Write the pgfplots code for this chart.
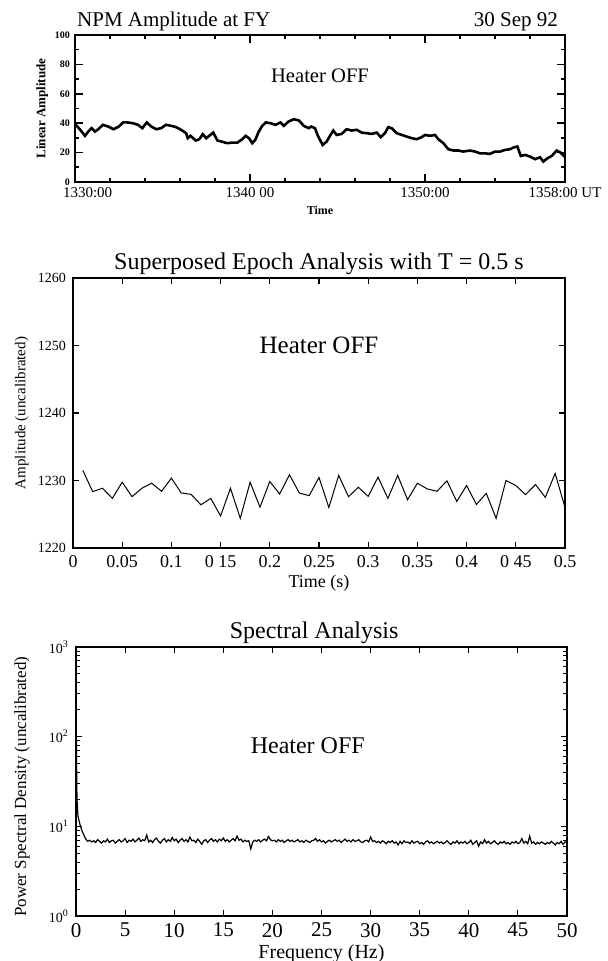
\documentclass[border=0pt]{standalone}
\usepackage{fontspec}
\setmainfont{Liberation Serif}
\usepackage{pgfplots}
\pgfplotsset{compat=1.18}
\pgfplotstableread{
f p
0.0 700
0.05 60
0.1 20
0.2 13
0.4 10.5
0.6 9.0
0.8 8.0
1.0 7.2
1.2 6.8
1.4 7.0
1.6 6.7
1.8 6.9
2.0 6.6
2.2 7.1
2.4 6.8
2.6 6.5
2.8 6.9
3.0 6.7
3.2 7.2
3.4 6.6
3.6 6.9
3.8 7.0
4.0 6.5
4.2 6.8
4.4 7.1
4.6 6.7
4.8 6.9
5.0 7.3
5.2 6.6
5.4 7.0
5.6 6.8
5.8 7.2
6.0 6.7
6.2 7.0
6.4 7.4
6.6 6.8
6.8 7.1
7.0 6.9
7.2 8.0
7.4 6.7
7.6 7.0
7.8 6.6
8.0 7.1
8.2 7.4
8.4 6.8
8.6 6.5
8.8 7.0
9.0 7.3
9.2 6.7
9.4 7.1
9.6 6.8
9.8 7.5
10.0 6.9
10.2 7.2
10.4 6.6
10.6 7.0
10.8 7.3
11.0 6.8
11.2 7.1
11.4 6.7
11.6 7.6
11.8 6.9
12.0 7.0
12.2 6.6
12.4 7.2
12.6 6.8
12.8 6.3
13.0 6.9
13.2 7.1
13.4 6.6
13.6 7.0
13.8 7.3
14.0 6.8
14.2 7.1
14.4 6.7
14.6 7.2
14.8 6.9
15.0 7.4
15.2 6.8
15.4 7.1
15.6 6.7
15.8 7.0
16.0 7.3
16.2 6.9
16.4 7.8
16.6 7.0
16.8 7.2
17.0 6.7
17.2 7.0
17.4 6.8
17.6 6.9
17.8 5.6
18.0 6.7
18.2 7.0
18.4 6.8
18.6 7.1
18.8 6.7
19.0 7.0
19.2 7.2
19.4 6.9
19.6 7.7
19.8 7.1
20.0 6.9
20.2 7.0
20.4 6.7
20.6 7.1
20.8 6.8
21.0 7.0
21.2 6.6
21.4 6.9
21.6 7.1
21.8 6.8
22.0 7.0
22.2 6.7
22.4 6.9
22.6 7.1
22.8 6.7
23.0 6.9
23.2 6.6
23.4 7.0
23.6 6.8
23.8 6.6
24.0 6.9
24.2 7.0
24.4 7.3
24.6 6.8
24.8 7.1
25.0 6.7
25.2 6.9
25.4 6.5
25.6 6.8
25.8 7.0
26.0 6.7
26.2 6.9
26.4 7.1
26.6 6.8
26.8 7.0
27.0 6.6
27.2 6.9
27.4 7.2
27.6 6.8
27.8 7.0
28.0 6.7
28.2 7.1
28.4 6.8
28.6 6.9
28.8 7.1
29.0 6.7
29.2 6.6
29.4 6.9
29.6 7.0
29.8 6.7
30.0 7.6
30.2 6.8
30.4 6.9
30.6 6.6
30.8 6.8
31.0 6.5
31.2 6.9
31.4 6.7
31.6 6.4
31.8 6.8
32.0 6.6
32.2 6.9
32.4 6.5
32.6 6.7
32.8 6.2
33.0 6.8
33.2 6.4
33.4 6.9
33.6 6.6
33.8 6.7
34.0 6.4
34.2 6.9
34.4 6.5
34.6 6.7
34.8 6.8
35.0 6.4
35.2 6.6
35.4 6.3
35.6 6.7
35.8 6.9
36.0 6.5
36.2 6.7
36.4 6.4
36.6 6.6
36.8 6.8
37.0 6.5
37.2 6.7
37.4 6.4
37.6 6.6
37.8 6.9
38.0 6.5
38.2 6.3
38.4 6.7
38.6 6.5
38.8 6.9
39.0 6.4
39.2 6.7
39.4 6.5
39.6 6.8
39.8 6.4
40.0 6.6
40.2 7.0
40.4 6.3
40.6 6.6
40.8 6.9
41.0 6.0
41.2 6.7
41.4 6.4
41.6 7.1
41.8 6.5
42.0 6.8
42.2 6.4
42.4 6.6
42.6 6.9
42.8 6.5
43.0 6.3
43.2 6.7
43.4 6.5
43.6 6.8
43.8 6.4
44.0 6.6
44.2 6.3
44.4 6.7
44.6 6.5
44.8 6.8
45.0 6.4
45.2 6.6
45.4 7.3
45.6 6.5
45.8 6.8
46.0 6.4
46.2 7.8
46.4 6.5
46.6 6.7
46.8 6.3
47.0 6.6
47.2 6.4
47.4 6.7
47.6 6.5
47.8 6.3
48.0 6.6
48.2 6.4
48.4 6.8
48.6 6.5
48.8 6.2
49.0 6.6
49.2 6.4
49.4 6.8
49.6 6.3
49.8 6.7
50.0 6.6
}\spectrum
\begin{document}
\begin{tikzpicture}
\useasboundingbox (0,0) rectangle (304pt,480.5pt);
% ---------- top panel ----------
\begin{axis}[at={(37.5pt,389.5pt)}, anchor=south west, scale only axis,
  width=245pt, height=73.5pt, xmin=1330, xmax=1358, ymin=0, ymax=100,
  axis line style={line width=1pt}, clip=false,
  xtick={1330,1340,1350,1358},
  xticklabels={\makebox[0pt][l]{\hspace{-6pt}1330:00},1340 00,1350:00,1358:00 UT},
  minor xtick={1332,1334,1336,1338,1342,1344,1346,1348,1352,1354,1356},
  ytick={0,20,40,60,80,100}, minor ytick={10,30,50,70,90},
  tick align=inside, major tick length=4pt, minor tick length=2pt,
  tick style={line width=0.8pt, black},
  /pgf/number format/assume math mode=true,
  x tick label style={font=\fontsize{7.5}{8}\selectfont, yshift=1pt},
  y tick label style={font=\bfseries\fontsize{5}{6}\selectfont, xshift=1pt},
  xlabel={Time}, ylabel={Linear Amplitude},
  xlabel style={font=\bfseries\fontsize{6}{7}\selectfont, at={(axis description cs:0.5,-0.19)}, anchor=center},
  ylabel style={font=\bfseries\fontsize{6.5}{7}\selectfont, at={(axis description cs:-0.067,0.5)}, anchor=center},
]
\addplot[black, line width=1.3pt] coordinates {
(1330.0,39.5)(1330.3,35.5)(1330.57,31.4)(1330.76,34.3)(1330.95,36.6)(1331.14,34.3)(1331.33,35.9)(1331.6,38.9)(1331.9,37.7)(1332.2,35.9)(1332.5,37.7)(1332.75,40.5)(1333.0,40.5)(1333.3,40)(1333.6,38.9)(1333.85,36.6)(1334.1,40.5)(1334.36,37.7)(1334.64,35.9)(1334.92,36.6)(1335.2,38.9)(1335.5,38.2)(1335.78,37.3)(1336.06,35.5)(1336.35,33.2)(1336.44,29.8)(1336.6,31.4)(1336.9,28.2)(1337.1,29.1)(1337.3,32.5)(1337.5,29.8)(1337.67,31.4)(1337.9,33.6)(1338.14,28.2)(1338.43,27.3)(1338.7,26.4)(1339.0,26.8)(1339.28,26.8)(1339.56,29.1)(1339.75,31.4)(1339.94,29.8)(1340.13,26.4)(1340.3,28.6)(1340.5,34.3)(1340.7,38.2)(1340.9,40.5)(1341.17,40)(1341.46,38.9)(1341.74,40.5)(1341.93,38.2)(1342.2,41.1)(1342.5,42.7)(1342.8,41.8)(1343.07,38.2)(1343.35,36.6)(1343.5,37.7)(1343.71,36.6)(1343.9,30.9)(1344.15,25.2)(1344.38,27.5)(1344.57,31.4)(1344.76,35)(1344.95,32)(1345.24,32.7)(1345.52,35.9)(1345.81,35)(1346.1,35.5)(1346.38,33.6)(1346.67,33.2)(1346.95,32.7)(1347.24,33.6)(1347.47,30.5)(1347.71,33.2)(1347.9,37.3)(1348.1,36.6)(1348.38,33.2)(1348.67,32)(1348.95,30.9)(1349.24,29.8)(1349.52,29.1)(1349.81,30.5)(1350.0,32)(1350.29,31.4)(1350.57,32)(1350.76,29.1)(1351.05,26.4)(1351.33,22.3)(1351.62,21.4)(1351.9,21.4)(1352.19,20.7)(1352.57,21.4)(1352.86,20.7)(1353.14,19.5)(1353.43,19.5)(1353.71,19.1)(1354.0,20.7)(1354.29,20.7)(1354.57,21.8)(1354.86,22.3)(1355.09,23.6)(1355.28,24.1)(1355.47,17.7)(1355.71,18.4)(1356.0,17.3)(1356.29,15.5)(1356.57,16.8)(1356.76,13.9)(1356.99,16.1)(1357.24,17.7)(1357.52,21.4)(1357.75,20)(1357.94,17.7)(1358,19)
};
\node[anchor=base west, font=\fontsize{10.5}{11}\selectfont] at (axis description cs:-0.01,1.06) {NPM Amplitude at FY};
\node[anchor=base east, font=\fontsize{10.5}{11}\selectfont] at (axis description cs:1.0,1.06) {30 Sep 92};
\node[font=\fontsize{10.3}{11}\selectfont] at (axis cs:1344,72) {Heater OFF};
\end{axis}
% ---------- middle panel ----------
\begin{axis}[at={(36.5pt,206.5pt)}, anchor=south west, scale only axis,
  width=246pt, height=135pt, xmin=0, xmax=0.5, ymin=1220, ymax=1260,
  axis line style={line width=0.8pt}, clip=false,
  xtick={0,0.05,0.1,0.15,0.2,0.25,0.3,0.35,0.4,0.45,0.5},
  xticklabels={0,0.05,0.1,0 15,0.2,0.25,0.3,0.35,0.4,0 45,0.5},
  ytick={1220,1230,1240,1250,1260},
  tick align=inside, major tick length=3pt,
  tick style={line width=0.6pt, black},
  /pgf/number format/assume math mode=true,
  /pgf/number format/.cd, 1000 sep={}, /pgfplots/.cd,
  x tick label style={font=\fontsize{9}{10}\selectfont},
  y tick label style={font=\fontsize{7}{8}\selectfont},
  xlabel={Time (s)}, ylabel={Amplitude (uncalibrated)},
  xlabel style={font=\fontsize{9}{10}\selectfont, at={(axis description cs:0.5,-0.13)}, anchor=center},
  ylabel style={font=\fontsize{7.5}{8}\selectfont, at={(axis description cs:-0.104,0.5)}, anchor=center},
]
\addplot[black, line width=0.5pt] coordinates {
(0.01,1231.5)(0.02,1228.35)(0.03,1228.85)(0.04,1227.35)(0.05,1229.75)(0.06,1227.6)(0.07,1228.85)(0.08,1229.6)(0.09,1228.4)(0.10,1230.35)(0.11,1228.15)(0.12,1227.95)(0.13,1226.4)(0.14,1227.35)(0.15,1224.75)(0.16,1228.85)(0.17,1224.4)(0.18,1229.75)(0.19,1226.05)(0.20,1229.85)(0.21,1228.0)(0.22,1230.85)(0.23,1228.15)(0.24,1227.75)(0.25,1230.45)(0.26,1226.0)(0.27,1230.75)(0.28,1227.6)(0.29,1229.0)(0.30,1227.65)(0.31,1230.5)(0.32,1227.35)(0.33,1230.75)(0.34,1227.15)(0.35,1229.6)(0.36,1228.75)(0.37,1228.4)(0.38,1229.95)(0.39,1226.9)(0.40,1229.25)(0.41,1226.45)(0.42,1228.1)(0.43,1224.4)(0.44,1230.0)(0.45,1229.25)(0.46,1227.9)(0.47,1229.4)(0.48,1227.5)(0.49,1231.05)(0.50,1226.0)
};
\node[anchor=base, font=\fontsize{12}{13}\selectfont] at (axis description cs:0.5,1.03) {Superposed Epoch Analysis with T = 0.5 s};
\node[font=\fontsize{12.5}{13}\selectfont] at (axis cs:0.25,1250) {Heater OFF};
\end{axis}
% ---------- bottom panel ----------
\begin{axis}[at={(38pt,22.5pt)}, anchor=south west, scale only axis,
  width=245.5pt, height=134.5pt, xmin=0, xmax=50, ymode=log, ymin=1, ymax=1000,
  axis line style={line width=0.8pt}, clip=false,
  xtick={0,5,...,50},
  ytick={1,10,100,1000},
  yticklabels={10\textsuperscript{0},10\textsuperscript{1},10\textsuperscript{2},10\textsuperscript{3}},
  tick align=inside, major tick length=3pt, minor tick length=2pt,
  tick style={line width=0.5pt, black},
  /pgf/number format/assume math mode=true,
  x tick label style={font=\fontsize{10.5}{11}\selectfont},
  y tick label style={font=\fontsize{7}{8}\selectfont},
  xlabel={Frequency (Hz)}, ylabel={Power Spectral Density (uncalibrated)},
  xlabel style={font=\fontsize{10}{11}\selectfont, at={(axis description cs:0.5,-0.14)}, anchor=center},
  ylabel style={font=\fontsize{8.5}{9}\selectfont, at={(axis description cs:-0.11,0.48)}, anchor=center},
]
\addplot[black, line width=0.6pt] table[x=f, y=p] {\spectrum};
\node[anchor=base, font=\fontsize{12}{13}\selectfont] at (axis description cs:0.485,1.03) {Spectral Analysis};
\node[font=\fontsize{12}{13}\selectfont] at (axis cs:23.6,80) {Heater OFF};
\end{axis}
\end{tikzpicture}
\end{document}
